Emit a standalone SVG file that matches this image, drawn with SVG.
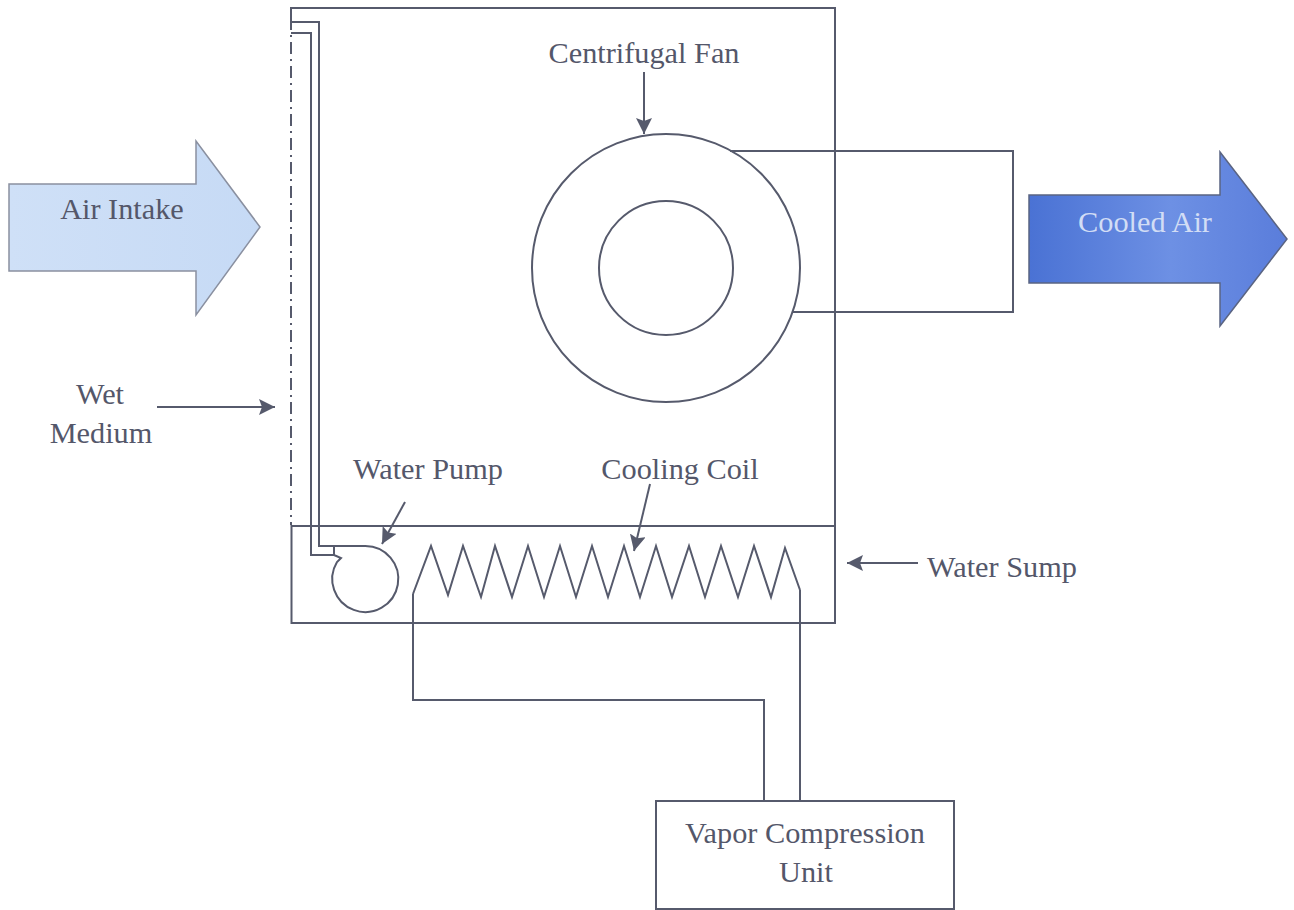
<svg xmlns="http://www.w3.org/2000/svg" width="1294" height="910" viewBox="0 0 1294 910">
<style>
.l{fill:none;stroke:#565a6c;stroke-width:2}
.a{fill:none;stroke:#565a6c;stroke-width:2}
.t{font-family:"Liberation Serif",serif;font-size:30.300px;fill:#54576a;text-anchor:middle}
</style>
<defs>
<marker id="h" markerUnits="userSpaceOnUse" markerWidth="18" markerHeight="18" refX="16" refY="8" orient="auto"><path d="M0 0L16 8L0 16L3 8Z" fill="#565a6c"/></marker>
<linearGradient id="g1" x1="0" x2="1" y1="0" y2="0"><stop offset="0" stop-color="#cfe0f7"/><stop offset="1" stop-color="#c6daf5"/></linearGradient>
<linearGradient id="g2" x1="0" x2="1" y1="0" y2="0"><stop offset="0" stop-color="#4a72d4"/><stop offset="0.55" stop-color="#6d90e4"/><stop offset="1" stop-color="#5a7ddb"/></linearGradient>
</defs>
<rect width="1294" height="910" fill="#fff"/>
<g id="air-intake"><polygon points="9,184 196,184 196,141 260,227 196,315 196,271 9,271" fill="url(#g1)" stroke="#8a90a0" stroke-width="1.500"/><text class="t" x="122" y="219">Air Intake</text></g>
<g id="cooled-air"><polygon points="1029,195 1220,195 1220,152 1287,239 1220,326 1220,283 1029,283" fill="url(#g2)" stroke="#5a6482" stroke-width="1.500"/><text class="t" x="1145" y="232" style="fill:#d2ddf5">Cooled Air</text></g>
<g id="cabinet"><path class="l" d="M291 18V8H835V526"/><path class="l" d="M291 18V525" stroke-dasharray="12 5 2 5"/></g>
<g id="sump"><rect class="l" x="291.500" y="526" width="543.500" height="97"/></g>
<g id="fan"><circle class="l" cx="666" cy="268" r="134"/><circle class="l" cx="666" cy="268" r="67"/><path class="l" d="M730 151H1013V312H793"/></g>
<g id="pump"><path class="l" d="M334 546H365A33 33 0 1 1 337 562L341 558L334 555V546"/></g>
<g id="coil"><path class="l" d="M413 594L431 546L448 595L463 546L481 597L495 546L512 597L528 546L544 597L560 546L576 597L592 546L608 597L624 546L640 597L656 546L672 597L689 546L705 597L721 546L738 597L754 546L771 597L785 548L800 590"/></g>
<g id="vapor-unit"><rect class="l" x="656" y="801" width="298" height="108"/><text class="t" x="805" y="843">Vapor Compression</text><text class="t" x="806" y="882">Unit</text></g>
<g id="connectors">
<path class="l" d="M291 22H319V546H334"/><path class="l" d="M291 33H311V555H334"/>
<path class="l" d="M413 594V700H764V801"/><path class="l" d="M800 590V801"/>
<path class="a" d="M644 72V134" marker-end="url(#h)"/>
<path class="a" d="M157 407H275" marker-end="url(#h)"/>
<path class="a" d="M405 502L382 544" marker-end="url(#h)"/>
<path class="a" d="M650 484L634 551" marker-end="url(#h)"/>
<path class="a" d="M918 563H847" marker-end="url(#h)"/>
</g>
<g id="labels">
<text class="t" x="644" y="63">Centrifugal Fan</text>
<text class="t" x="100" y="404">Wet</text><text class="t" x="101" y="443">Medium</text>
<text class="t" x="428" y="479">Water Pump</text>
<text class="t" x="680" y="479">Cooling Coil</text>
<text class="t" x="1002" y="577">Water Sump</text>
</g>
</svg>
